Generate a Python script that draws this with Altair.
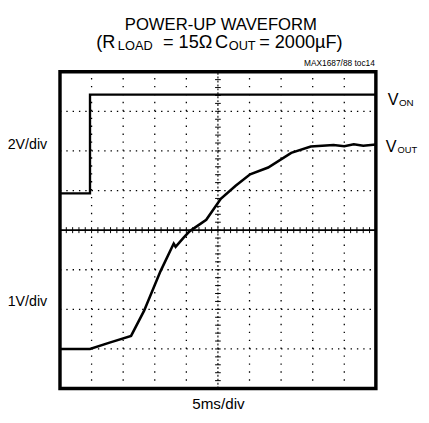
import altair as alt
import pandas as pd

# ---- data (time in 5ms divisions, voltage in screen divisions) ----
von_t = [0, 0.95, 0.95, 10]
von_d = [4.93, 4.93, 7.42, 7.42]

vout_t = [0, 0.95, 1.57, 2.25, 2.66, 3.18, 3.54, 3.60, 3.66, 3.9, 4.1, 4.63,
          5.09, 5.56, 6.02, 6.59, 7.32, 7.94, 8.66, 9.0, 9.3, 9.6, 10]
vout_d = [1.0, 1.0, 1.16, 1.33, 1.96, 2.96, 3.56, 3.66, 3.58, 3.8, 3.97, 4.26,
          4.79, 5.12, 5.41, 5.58, 5.95, 6.11, 6.15, 6.12, 6.17, 6.13, 6.16]

grid_x = [1, 2, 3, 4, 6, 7, 8, 9]
grid_y = [1, 2, 3, 5, 6, 7]
center_x = 5
center_y = 4
minor_x = [k / 5 for k in range(1, 50)]
minor_y = [k / 5 for k in range(1, 40)]

FONT = "Liberation Sans, Arial, Helvetica, sans-serif"

xs = alt.Scale(domain=[0, 10], nice=False, zero=False)
ys = alt.Scale(domain=[0, 8], nice=False, zero=False)

def X(f):
    return alt.X(f, type="quantitative", scale=xs, axis=None)

def Y(f):
    return alt.Y(f, type="quantitative", scale=ys, axis=None)

one = pd.DataFrame({"a": [0]})

# dotted grid
vgrid = alt.Chart(pd.DataFrame({"t": grid_x, "y0": 0, "y1": 8})).mark_rule(
    color="black", strokeWidth=1.3, strokeDash=[1.4, 6.68]
).encode(x=X("t"), y=Y("y0"), y2="y1")
hgrid = alt.Chart(pd.DataFrame({"d": grid_y, "x0": 0, "x1": 10})).mark_rule(
    color="black", strokeWidth=1.3, strokeDash=[1.4, 5.04]
).encode(y=Y("d"), x=X("x0"), x2="x1")

# centre axes
hcenter = alt.Chart(pd.DataFrame({"d": [center_y], "x0": 0, "x1": 10})).mark_rule(
    color="black", strokeWidth=1.6
).encode(y=Y("d"), x=X("x0"), x2="x1")
vcenter = alt.Chart(pd.DataFrame({"t": [center_x], "y0": 0, "y1": 8})).mark_rule(
    color="black", strokeWidth=1.1, strokeDash=[2, 2]
).encode(x=X("t"), y=Y("y0"), y2="y1")
hticks = alt.Chart(pd.DataFrame({"t": minor_x, "y0": center_y - 0.075, "y1": center_y + 0.075})).mark_rule(
    color="black", strokeWidth=1
).encode(x=X("t"), y=Y("y0"), y2="y1")
vticks = alt.Chart(pd.DataFrame({"d": minor_y, "x0": center_x - 0.09, "x1": center_x + 0.09})).mark_rule(
    color="black", strokeWidth=1
).encode(y=Y("d"), x=X("x0"), x2="x1")

# traces
von = alt.Chart(pd.DataFrame({"t": von_t, "d": von_d, "i": range(len(von_t))})).mark_line(
    color="black", strokeWidth=2.4
).encode(x=X("t"), y=Y("d"), order="i:Q")
vout = alt.Chart(pd.DataFrame({"t": vout_t, "d": vout_d, "i": range(len(vout_t))})).mark_line(
    color="black", strokeWidth=2.6
).encode(x=X("t"), y=Y("d"), order="i:Q")

def txt(s, x, y, size, align="left", baseline="alphabetic"):
    return alt.Chart(one).mark_text(
        font=FONT, fontSize=size, align=align, baseline=baseline, color="black"
    ).encode(x=alt.value(x), y=alt.value(y), text=alt.value(s))

texts = [
    txt("POWER-UP WAVEFORM", 164, -42.3, 17, align="center"),
    txt("(R", 37, -24.5, 18.5),
    txt("LOAD", 59, -22, 13),
    txt("= 15\u03a9", 105, -24.5, 18.5),
    txt("C", 158, -24.5, 18.5),
    txt("OUT", 172, -22, 13),
    txt("= 2000\u00b5F)", 203, -24.5, 18.5),
    txt("MAX1687/88 toc14", 321, -5.5, 8.5, align="right"),
    txt("V", 334, 34.3, 16.5),
    txt("ON", 345.5, 35, 10),
    txt("V", 332, 82, 16.5),
    txt("OUT", 344, 83, 9.5),
    txt("2V/div", -13, 74.3, 14.5, align="right", baseline="middle"),
    txt("1V/div", -13, 235, 14.5, align="right", baseline="middle"),
    txt("5ms/div", 161.5, 344, 15.5, align="center"),
]

chart = alt.layer(vgrid, hgrid, hcenter, vcenter, hticks, vticks, von, vout, *texts).properties(
    width=322,
    height=323,
    autosize=alt.AutoSizeParams(type="none"),
    padding={"left": 53, "top": 61, "right": 46, "bottom": 23},
    background="white",
).configure_view(stroke="black", strokeWidth=3.5)

chart.save("out.html", embed_options={"renderer": "svg", "actions": False})
